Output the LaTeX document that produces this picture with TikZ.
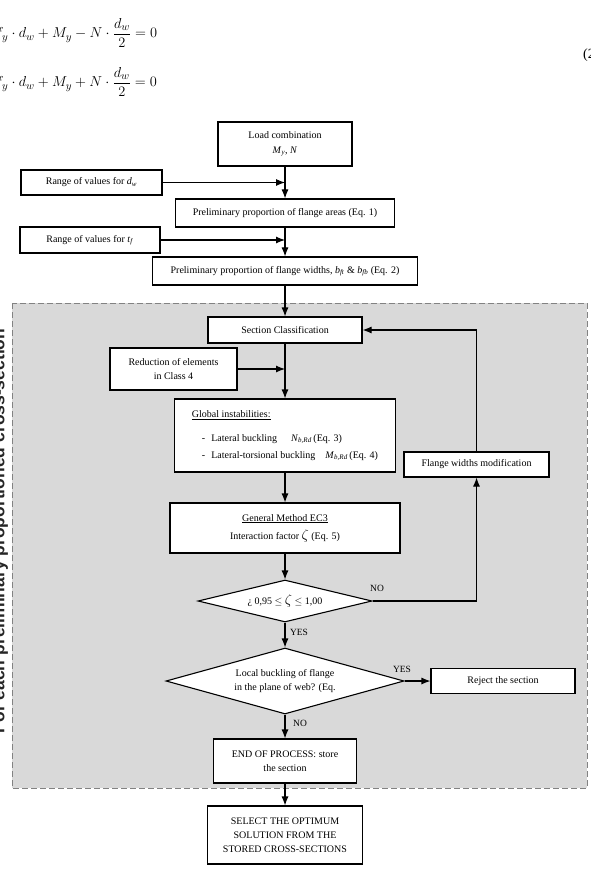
\documentclass[tikz,border=0pt]{standalone}
\usepackage{amsmath}
\usepackage{fontspec}
\setmainfont{Liberation Serif}
\newfontfamily\sidefont{Liberation Sans}
\usetikzlibrary{arrows.meta,shapes.geometric}
\definecolor{zonegray}{RGB}{217,217,217}
\definecolor{dashgray}{RGB}{130,130,130}
\newcommand{\ivar}[2]{\textit{#1}\textsubscript{\textit{#2}}}
\newcommand{\bigzeta}{{\fontsize{15}{15}\selectfont$\zeta$}}

\begin{document}
\begin{tikzpicture}[x=1pt,y=-1pt,
    box/.style={draw,fill=white,line width=1.1pt,inner sep=2pt,align=center,
      font=\fontsize{10}{14}\selectfont},
    decision/.style={diamond,draw,fill=white,line width=1.1pt,inner sep=0pt,
      align=center,font=\fontsize{10}{14}\selectfont},
    flow/.style={line width=1.1pt,-{Latex[length=9pt,width=7pt]}},
    tag/.style={inner sep=0pt,font=\fontsize{9.5}{10}\selectfont}]
\useasboundingbox (0,0) rectangle (590,874);
\clip (0,0) rectangle (590,874);
% equations
\node[anchor=west,inner sep=0pt,font=\fontsize{15}{17}\selectfont] (eqa) at (-5,33)
  {$f_y\cdot d_w+M_y-N\cdot\dfrac{d_w}{2}=0$};
\node[anchor=west,inner sep=0pt,font=\fontsize{15}{17}\selectfont] (eqb) at (-5,82)
  {$f_y\cdot d_w+M_y+N\cdot\dfrac{d_w}{2}=0$};
\node[anchor=west,inner sep=0pt,font=\fontsize{14}{14}\selectfont] (eqnum) at (583,55) {(2)};
% shaded zone
\draw[fill=zonegray,draw=dashgray,line width=1pt,dash pattern=on 6pt off 3pt]
  (12,303) rectangle (587,788);
\node[rotate=90,anchor=base,inner sep=0pt,text=black!85,
  font=\sidefont\bfseries\fontsize{17.5}{18}\selectfont] (side) at (4.5,531)
  {For each preliminary proportioned cross-section};
% boxes
\node[box,minimum width=134pt,minimum height=44pt] (load) at (285,144)
  {Load combination\\[1pt] \ivar{M}{y}, \textit{N}};
\node[box,minimum width=141pt,minimum height=25pt] (rangedw) at (91.5,182.5)
  {Range of values for \ivar{d}{w}};
\node[box,minimum width=219pt,minimum height=28pt] (areas) at (285,213)
  {Preliminary proportion of flange areas (Eq. 1)};
\node[box,minimum width=140pt,minimum height=26pt] (rangetf) at (90,240)
  {Range of values for \ivar{t}{f}};
\node[box,minimum width=265pt,minimum height=28pt] (widths) at (285,271)
  {Preliminary proportion of flange widths, \ivar{b}{ft} \& \ivar{b}{fb} (Eq. 2)};
\node[box,minimum width=154pt,minimum height=26pt] (section) at (285,330)
  {Section Classification};
\node[box,minimum width=127pt,minimum height=42pt] (reduction) at (173.5,369)
  {Reduction of elements\\ in Class 4};
\node[box,align=left,minimum width=221pt,minimum height=73pt] (global) at (285,435.5)
  {\underline{Global instabilities:}\\[10pt]
   \hspace*{10pt}-\hspace{6pt}Lateral buckling\hspace{14pt}\ivar{N}{b,Rd}\,(Eq. 3)\\[3pt]
   \hspace*{10pt}-\hspace{6pt}Lateral-torsional buckling\hspace{10pt}\ivar{M}{b,Rd}\,(Eq. 4)};
\node[box,minimum width=145pt,minimum height=25pt] (flangemod) at (476.5,464.5)
  {Flange widths modification};
\node[box,minimum width=230pt,minimum height=50pt] (general) at (285,528)
  {\underline{General Method EC3}\\[4pt] Interaction factor \bigzeta{} (Eq. 5)};
\node[decision,aspect=4.1,minimum width=174pt,minimum height=42pt] (check) at (285,601)
  {¿ 0,95 $\leq$ \bigzeta{} $\leq$ 1,00};
\node[decision,aspect=3.6,minimum width=238pt,minimum height=66pt] (local) at (285,681)
  {Local buckling of flange\\ in the plane of web? (Eq.};
\node[box,minimum width=144pt,minimum height=25pt] (reject) at (503,681)
  {Reject the section};
\node[box,minimum width=143pt,minimum height=44pt] (store) at (285,761)
  {END OF PROCESS: store\\ the section};
\node[box,minimum width=155pt,minimum height=58pt] (select) at (285,835)
  {SELECT THE OPTIMUM\\ SOLUTION FROM THE\\ STORED CROSS-SECTIONS};
% labels
\node[tag] (no1) at (377,588) {NO};
\node[tag] (yes1) at (299,632) {YES};
\node[tag] (yes2) at (402,669) {YES};
\node[tag] (no2) at (300,723) {NO};
% connectors
\draw[flow] (load) -- (areas);
\draw[flow] (rangedw) -- (rangedw -| areas);
\draw[flow] (areas) -- (widths);
\draw[flow] (rangetf) -- (rangetf -| widths);
\draw[flow] (widths) -- (section);
\draw[flow] (section) -- (global);
\draw[flow] (reduction) -- (reduction -| global);
\draw[flow] (global) -- (general);
\draw[flow] (general) -- (check);
\draw[flow] (check.east) -| (flangemod.south);
\draw[flow] (flangemod.north) |- (section.east);
\draw[flow] (check) -- (local);
\draw[flow] (local) -- (reject);
\draw[flow] (local) -- (store);
\draw[flow] (store) -- (select);
\end{tikzpicture}
\end{document}
